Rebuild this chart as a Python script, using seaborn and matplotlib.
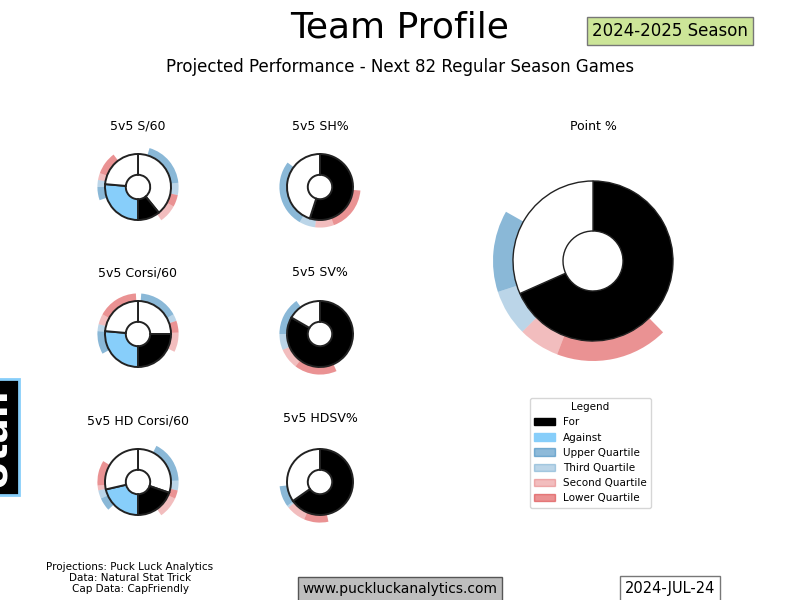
import matplotlib
matplotlib.use("Agg")
import matplotlib.pyplot as plt
from matplotlib.colors import to_rgba
from matplotlib.patches import Patch
import seaborn as sns

sns.set_theme(style="white")
plt.rcParams['font.family'] = ['DejaVu Sans']
plt.rcParams['text.color'] = 'black'

# ---------------- data (angles in degrees, clockwise from 12 o'clock) -------------
rate_titles = ["5v5 S/60", "5v5 Corsi/60", "5v5 HD Corsi/60"]
rate_for_deg = [39, 90, 71]          # For wedge, measured back from 180 deg
rate_against_deg = [95, 95, 77]      # Against wedge, measured on from 180 deg
# quartile ring boundaries, right (For) side: upper, third, lower, second
rate_ring_right = [[16.5, 84, 101.5, 118.6, 145],
                   [4.6, 61, 71, 88, 116],
                   [27, 88, 102, 114, 145]]
# quartile ring boundaries, left (Against) side: upper, third, second, lower
rate_ring_left = [[251, 270, 280, 290, 323],
                  [241, 274, 284, 299, 357],
                  [227, 246, 258, 265, 301]]

pct_titles = ["5v5 SH%", "5v5 SV%", "5v5 HDSV%", "Point %"]
pct_for_deg = [198, 300, 235, 246]
# quartile ring boundaries: lower, second, third, upper
pct_ring = [[95, 160, 187, 210, 307],
            [156, 217, 247, 270, 324.5],
            [168, 203, 231, 234, 264],
            [135.5, 201, 225, 252, 299.5]]

legend_labels = ["For", "Against", "Upper Quartile", "Third Quartile",
                 "Second Quartile", "Lower Quartile"]

# ---------------- styling ----------------
C_FOR = "black"
C_AGAINST = "#87CEFA"
C_UQ = to_rgba("tab:blue", 0.52)
C_TQ = to_rgba("tab:blue", 0.3)
C_SQ = to_rgba("tab:red", 0.3)
C_LQ = to_rgba("tab:red", 0.5)
NONE = (1, 1, 1, 0)

W, H = 800, 600
fig = plt.figure(figsize=(8, 6), dpi=100)
fig.patch.set_facecolor("white")


def px_axes(cx, cy, r_px, lim=1.3):
    half = r_px * lim
    ax = fig.add_axes([(cx - half) / W, 1 - (cy + half) / H, 2 * half / W, 2 * half / H])
    return ax


def finish(ax, lim=1.3):
    ax.set_xlim(-lim, lim)
    ax.set_ylim(-lim, lim)
    ax.set_aspect("equal")
    ax.axis("off")


def ring_from_bounds(segments):
    """segments: list of (bounds, colors); returns sizes and colors of a full 360 pie."""
    sizes, cols = [], []
    pos = 0.0
    for bounds, colors in segments:
        if bounds[0] > pos:
            sizes.append(bounds[0] - pos)
            cols.append(NONE)
        for a, b, c in zip(bounds[:-1], bounds[1:], colors):
            sizes.append(b - a)
            cols.append(c)
        pos = bounds[-1]
    if pos < 360:
        sizes.append(360 - pos)
        cols.append(NONE)
    return sizes, cols


def draw_ring(ax, sizes, cols, r_out, r_in=0.98):
    ax.pie(sizes, colors=cols, startangle=90, counterclock=False, radius=r_out,
           wedgeprops=dict(width=r_out - r_in, linewidth=0, edgecolor="none"))


small_r = 33
hole = 0.37
rate_centers = [(138, 187), (138, 334), (138, 482)]
for i, (cx, cy) in enumerate(rate_centers):
    ax = px_axes(cx, cy, small_r)
    sizes, cols = ring_from_bounds([
        (rate_ring_right[i], [C_UQ, C_TQ, C_LQ, C_SQ]),
        (rate_ring_left[i], [C_UQ, C_TQ, C_SQ, C_LQ]),
    ])
    draw_ring(ax, sizes, cols, 1.23)
    f, a = rate_for_deg[i], rate_against_deg[i]
    ax.pie([180 - f, f, a, 180 - a], colors=["white", C_FOR, C_AGAINST, "white"],
           startangle=90, counterclock=False, radius=1.0,
           wedgeprops=dict(width=1 - hole, edgecolor="#222222", linewidth=1.4))
    finish(ax)
    fig.text(cx / W, 1 - (cy - 61) / H, rate_titles[i], ha="center", va="center",
             fontsize=9)

pct_centers = [(320, 187), (320, 334), (320, 482), (593, 261)]
pct_radius = [small_r, small_r, small_r, 80]
pct_title_y = [126, 272, 419, 126]
for i, (cx, cy) in enumerate(pct_centers):
    r = pct_radius[i]
    ax = px_axes(cx, cy, r)
    sizes, cols = ring_from_bounds([(pct_ring[i], [C_LQ, C_SQ, C_TQ, C_UQ])])
    draw_ring(ax, sizes, cols, 1.23 if r == small_r else 1.25)
    v = pct_for_deg[i]
    ax.pie([v, 360 - v], colors=[C_FOR, "white"], startangle=90, counterclock=False,
           radius=1.0, wedgeprops=dict(width=1 - (hole if r == small_r else 0.375),
                                       edgecolor="#222222",
                                       linewidth=1.4 if r == small_r else 1.0))
    finish(ax)
    fig.text(cx / W, 1 - pct_title_y[i] / H, pct_titles[i], ha="center", va="center",
             fontsize=9)

# ---------------- texts ----------------
fig.text(0.5, 1 - 28 / H, "Team Profile", ha="center", va="center", fontsize=26)
fig.text(0.5, 1 - 67 / H, "Projected Performance - Next 82 Regular Season Games",
         ha="center", va="center", fontsize=12)
fig.text(670 / W, 1 - 31 / H, "2024-2025 Season", ha="center", va="center", fontsize=12,
         bbox=dict(boxstyle="square,pad=0.3", facecolor=to_rgba("yellowgreen", 0.5),
                   edgecolor="#777777"))

fig.text(-0.008, 1 - 437 / H, "Utah", rotation=90, ha="center", va="center",
         fontsize=27, fontweight="bold", color="white",
         bbox=dict(boxstyle="square,pad=0.2", facecolor="black",
                   edgecolor="#87CEFA", linewidth=2))

fig.text(130 / W, 1 - 578 / H,
         "Projections: Puck Luck Analytics\nData: Natural Stat Trick\nCap Data: CapFriendly",
         ha="center", va="center", fontsize=7.5, linespacing=1.1)
fig.text(400 / W, 1 - 589 / H, "www.puckluckanalytics.com", ha="center", va="center",
         fontsize=10,
         bbox=dict(boxstyle="square,pad=0.35", facecolor="#BEBEBE", edgecolor="#555555"))
fig.text(670 / W, 1 - 589 / H, "2024-JUL-24", ha="center", va="center", fontsize=10.5,
         bbox=dict(boxstyle="square,pad=0.35", facecolor="white", edgecolor="#777777"))

# ---------------- legend ----------------
handle_colors = [C_FOR, C_AGAINST, "tab:blue", "tab:blue", "tab:red", "tab:red"]
handle_alpha = [1, 1, 0.5, 0.3, 0.3, 0.5]
handles = [Patch(color=c, alpha=al, label=l)
           for c, al, l in zip(handle_colors, handle_alpha, legend_labels)]
leg = fig.legend(handles=handles, title="Legend", loc="upper left",
                 bbox_to_anchor=(530 / W, 1 - 398 / H), borderaxespad=0,
                 fontsize=7.5, title_fontsize=7.5, frameon=True, edgecolor="#cccccc",
                 fancybox=True)
for t in leg.get_texts():
    t.set_color("black")
leg.get_title().set_color("black")

fig.savefig("out.png", dpi=100, facecolor="white")
